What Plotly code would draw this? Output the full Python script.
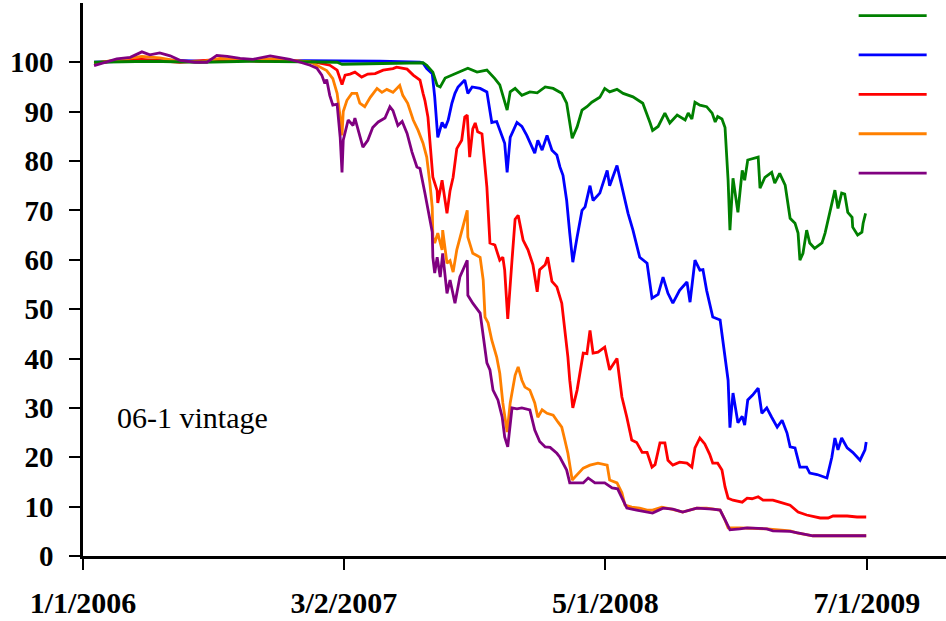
import plotly.graph_objects as go

# ABX.HE 06-1 index prices by tranche (observation date, price)
aaa_dates = [
    "2006-01-19", "2006-03-02", "2006-04-20", "2006-07-11", "2006-09-30", "2006-12-21", "2007-02-19", "2007-02-27", "2007-04-30", "2007-07-09",
    "2007-07-15", "2007-07-25", "2007-08-01", "2007-08-06", "2007-08-14", "2007-08-25", "2007-09-07", "2007-09-20", "2007-10-05", "2007-10-21",
    "2007-11-03", "2007-11-11", "2007-11-23", "2007-11-28", "2007-12-06", "2007-12-17", "2007-12-30", "2008-01-11", "2008-01-24", "2008-02-06",
    "2008-02-20", "2008-02-28", "2008-03-08", "2008-03-16", "2008-03-24", "2008-04-01", "2008-04-09", "2008-04-22", "2008-04-30", "2008-05-08",
    "2008-05-20", "2008-05-30", "2008-06-15", "2008-07-01", "2008-07-13", "2008-07-17", "2008-07-26", "2008-08-06", "2008-08-14", "2008-08-26",
    "2008-09-08", "2008-09-13", "2008-09-19", "2008-09-24", "2008-10-02", "2008-10-13", "2008-10-22", "2008-10-27", "2008-10-31", "2008-11-07",
    "2008-11-12", "2008-11-15", "2008-11-17", "2008-11-20", "2008-11-25", "2008-12-03", "2008-12-10", "2008-12-14", "2008-12-19", "2009-01-05",
    "2009-01-08", "2009-01-16", "2009-01-27", "2009-02-01", "2009-02-09", "2009-02-18", "2009-02-22", "2009-02-26", "2009-03-06", "2009-03-11",
    "2009-03-14", "2009-03-19", "2009-03-25", "2009-03-30", "2009-04-07", "2009-04-19", "2009-04-24", "2009-05-02", "2009-05-10", "2009-05-15",
    "2009-05-21", "2009-05-26", "2009-05-31", "2009-06-07", "2009-06-08", "2009-06-16", "2009-06-23", "2009-06-25", "2009-06-29",
]
aaa_prices = [
    100.0, 100.1, 100.2, 100.0, 100.2, 100.1, 100.0, 99.6, 99.8, 99.9,
    99.4, 98.0, 95.3, 95.0, 96.8, 97.4, 98.0, 98.8, 98.0, 98.4,
    96.7, 95.4, 90.3, 94.0, 94.7, 93.3, 94.0, 93.8, 95.0, 94.7,
    93.7, 91.7, 84.6, 86.9, 90.3, 91.0, 91.9, 92.9, 94.7, 94.0,
    94.5, 93.7, 93.0, 91.7, 87.7, 86.2, 87.0, 89.7, 87.7, 89.3,
    88.3, 89.7, 88.5, 91.9, 91.3, 91.0, 89.7, 87.9, 89.0, 88.5,
    86.8, 81.5, 76.1, 66.0, 76.5, 69.6, 78.1, 76.1, 80.2, 80.8,
    74.5, 76.7, 77.7, 75.5, 77.5, 75.1, 72.0, 68.4, 67.4, 65.4,
    59.9, 61.3, 66.0, 63.4, 62.3, 63.4, 65.4, 70.0, 74.1, 70.4,
    73.5, 73.3, 69.6, 68.6, 66.6, 65.0, 65.6, 67.4, 69.4,
]

aa_dates = [
    "2006-01-19", "2006-03-19", "2006-05-06", "2006-07-11", "2006-09-30", "2006-12-21", "2007-02-24", "2007-04-30", "2007-07-04", "2007-07-09",
    "2007-07-15", "2007-07-24", "2007-07-28", "2007-08-02", "2007-08-09", "2007-08-14", "2007-08-19", "2007-08-25", "2007-08-30", "2007-09-04",
    "2007-09-15", "2007-09-20", "2007-09-27", "2007-10-10", "2007-10-21", "2007-10-29", "2007-11-06", "2007-11-15", "2007-11-19", "2007-11-23",
    "2007-11-28", "2007-12-09", "2007-12-17", "2007-12-25", "2008-01-07", "2008-01-12", "2008-01-19", "2008-01-27", "2008-02-04", "2008-02-12",
    "2008-02-17", "2008-02-22", "2008-02-28", "2008-03-04", "2008-03-09", "2008-03-16", "2008-03-24", "2008-03-29", "2008-04-06", "2008-04-11",
    "2008-04-22", "2008-05-04", "2008-05-08", "2008-05-20", "2008-05-28", "2008-06-07", "2008-06-15", "2008-06-26", "2008-07-08", "2008-07-16",
    "2008-07-26", "2008-08-03", "2008-08-11", "2008-08-19", "2008-08-30", "2008-09-11", "2008-09-16", "2008-09-24", "2008-10-02", "2008-10-07",
    "2008-10-13", "2008-10-23", "2008-11-04", "2008-11-12", "2008-11-17", "2008-11-20", "2008-11-25", "2008-12-03", "2008-12-10", "2008-12-14",
    "2008-12-19", "2008-12-27", "2009-01-05", "2009-01-11", "2009-01-19", "2009-01-27", "2009-02-05", "2009-02-13", "2009-02-21", "2009-02-26",
    "2009-03-06", "2009-03-14", "2009-03-25", "2009-03-30", "2009-04-11", "2009-04-27", "2009-05-05", "2009-05-10", "2009-05-15", "2009-05-21",
    "2009-05-30", "2009-06-08", "2009-06-20", "2009-06-28", "2009-06-30",
]
aa_prices = [
    100.0, 100.3, 100.5, 100.2, 100.4, 100.3, 100.3, 100.2, 100.0, 99.8,
    98.7, 97.7, 93.0, 84.8, 87.8, 86.7, 88.3, 91.7, 93.7, 95.0,
    96.4, 93.7, 95.0, 94.7, 94.0, 87.8, 88.0, 84.8, 83.6, 77.7,
    84.8, 87.8, 87.0, 85.2, 81.6, 84.2, 82.2, 85.2, 82.2, 81.2,
    78.8, 77.1, 72.0, 65.4, 59.5, 64.6, 70.0, 70.7, 75.0, 72.0,
    73.5, 78.1, 75.0, 79.1, 74.7, 69.4, 66.0, 60.5, 59.3, 52.2,
    53.0, 56.5, 53.2, 51.2, 53.8, 55.5, 51.4, 59.9, 57.9, 58.0,
    53.8, 48.4, 47.8, 40.3, 35.6, 26.0, 33.0, 27.0, 28.3, 26.5,
    31.6, 32.6, 34.0, 28.9, 30.0, 28.1, 26.1, 27.5, 24.9, 22.1,
    21.9, 18.0, 18.0, 16.8, 16.5, 15.8, 20.0, 23.9, 21.5, 23.9,
    21.9, 21.0, 19.4, 21.5, 23.1,
]

a_dates = [
    "2006-01-19", "2006-03-02", "2006-04-07", "2006-06-08", "2006-08-12", "2006-10-16", "2006-12-04", "2007-01-14", "2007-01-30", "2007-02-07",
    "2007-02-19", "2007-02-27", "2007-03-04", "2007-03-12", "2007-03-20", "2007-03-31", "2007-04-10", "2007-04-22", "2007-05-05", "2007-05-21",
    "2007-05-27", "2007-06-06", "2007-06-13", "2007-06-23", "2007-07-04", "2007-07-09", "2007-07-12", "2007-07-17", "2007-07-20", "2007-07-25",
    "2007-08-01", "2007-08-02", "2007-08-09", "2007-08-14", "2007-08-17", "2007-08-22", "2007-08-27", "2007-09-02", "2007-09-10", "2007-09-15",
    "2007-09-19", "2007-09-23", "2007-09-28", "2007-10-02", "2007-10-06", "2007-10-13", "2007-10-18", "2007-10-21", "2007-10-26", "2007-11-03",
    "2007-11-11", "2007-11-16", "2007-11-19", "2007-11-24", "2007-12-01", "2007-12-06", "2007-12-11", "2007-12-19", "2007-12-27", "2008-01-04",
    "2008-01-11", "2008-01-15", "2008-01-24", "2008-01-28", "2008-02-04", "2008-02-12", "2008-02-20", "2008-02-25", "2008-03-01", "2008-03-04",
    "2008-03-09", "2008-03-16", "2008-03-21", "2008-03-26", "2008-04-01", "2008-04-06", "2008-04-11", "2008-04-19", "2008-04-30", "2008-05-08",
    "2008-05-20", "2008-05-28", "2008-06-05", "2008-06-13", "2008-06-21", "2008-06-30", "2008-07-08", "2008-07-16", "2008-07-21", "2008-07-29",
    "2008-08-06", "2008-08-11", "2008-08-19", "2008-08-30", "2008-09-11", "2008-09-19", "2008-09-24", "2008-10-02", "2008-10-10", "2008-10-18",
    "2008-10-23", "2008-10-31", "2008-11-07", "2008-11-12", "2008-11-17", "2008-11-25", "2008-12-10", "2008-12-18", "2008-12-26", "2009-01-05",
    "2009-01-13", "2009-01-29", "2009-02-09", "2009-02-26", "2009-03-11", "2009-03-25", "2009-04-16", "2009-04-29", "2009-05-07", "2009-05-30",
    "2009-06-15", "2009-06-30",
]
a_prices = [
    99.8, 100.4, 100.6, 100.0, 100.6, 100.2, 100.3, 100.0, 99.6, 99.4,
    98.4, 95.5, 97.4, 97.6, 98.0, 97.0, 97.6, 97.7, 98.4, 98.7,
    99.0, 98.7, 98.6, 97.4, 96.4, 93.7, 92.3, 88.9, 84.8, 76.7,
    74.0, 71.5, 76.1, 72.0, 69.4, 74.0, 76.7, 82.5, 84.2, 88.9,
    89.3, 80.8, 86.5, 87.7, 85.9, 85.5, 78.8, 74.7, 63.4, 63.0,
    59.9, 60.5, 57.9, 48.0, 60.0, 68.2, 69.0, 64.0, 62.0, 59.0,
    53.5, 58.0, 59.0, 60.5, 55.6, 54.5, 51.2, 45.7, 40.3, 35.6,
    30.0, 33.6, 37.7, 41.1, 41.0, 45.7, 41.1, 41.3, 42.3, 37.7,
    40.0, 32.2, 28.1, 23.5, 23.0, 21.0, 21.0, 18.0, 18.5, 22.9,
    22.9, 19.4, 18.4, 19.0, 18.8, 18.0, 21.9, 23.9, 22.7, 20.6,
    18.8, 18.8, 17.4, 14.0, 11.7, 11.3, 10.9, 11.7, 11.6, 12.0,
    11.3, 11.3, 10.9, 10.3, 8.9, 8.3, 7.7, 7.7, 8.1, 8.1,
    7.9, 7.9,
]

bbb_dates = [
    "2006-01-19", "2006-02-25", "2006-04-07", "2006-05-06", "2006-06-08", "2006-07-11", "2006-08-12", "2006-09-14", "2006-10-16", "2006-11-10",
    "2006-12-12", "2007-01-06", "2007-01-22", "2007-02-02", "2007-02-12", "2007-02-19", "2007-02-24", "2007-02-27", "2007-03-01", "2007-03-07",
    "2007-03-15", "2007-03-23", "2007-03-28", "2007-04-05", "2007-04-14", "2007-04-25", "2007-05-03", "2007-05-11", "2007-05-21", "2007-06-01",
    "2007-06-06", "2007-06-14", "2007-06-23", "2007-07-01", "2007-07-09", "2007-07-15", "2007-07-20", "2007-07-24", "2007-07-25", "2007-07-28",
    "2007-08-02", "2007-08-09", "2007-08-10", "2007-08-17", "2007-08-22", "2007-08-27", "2007-09-02", "2007-09-07", "2007-09-12", "2007-09-19",
    "2007-09-20", "2007-09-28", "2007-10-10", "2007-10-15", "2007-10-18", "2007-10-23", "2007-10-29", "2007-11-06", "2007-11-11", "2007-11-16",
    "2007-11-23", "2007-11-28", "2007-12-06", "2007-12-11", "2007-12-17", "2007-12-22", "2007-12-30", "2008-01-07", "2008-01-12", "2008-01-19",
    "2008-01-27", "2008-02-06", "2008-02-14", "2008-02-20", "2008-02-25", "2008-03-01", "2008-03-08", "2008-03-16", "2008-03-26", "2008-04-06",
    "2008-04-19", "2008-05-04", "2008-05-08", "2008-05-20", "2008-05-28", "2008-06-02", "2008-06-13", "2008-06-26", "2008-07-08", "2008-07-17",
    "2008-08-01", "2008-08-17", "2008-09-04", "2008-09-27", "2008-10-13", "2008-11-04", "2008-11-12", "2008-11-17", "2008-12-06", "2009-01-19",
    "2009-02-26", "2009-03-09", "2009-04-04", "2009-06-30",
]
bbb_prices = [
    99.8, 100.5, 101.2, 100.9, 100.2, 100.1, 100.8, 100.6, 100.5, 100.8,
    100.3, 100.1, 99.1, 98.3, 96.7, 93.7, 88.9, 85.2, 90.0, 92.3,
    93.7, 93.7, 91.7, 91.0, 92.9, 94.7, 93.9, 94.5, 93.9, 95.3,
    93.3, 91.7, 88.3, 86.2, 83.6, 80.8, 75.7, 70.6, 64.6, 63.4,
    65.4, 62.0, 66.0, 59.3, 59.8, 57.5, 62.0, 64.4, 66.6, 70.0,
    64.6, 61.3, 60.5, 55.9, 48.4, 47.2, 43.7, 40.3, 37.0, 31.0,
    25.1, 31.0, 36.6, 38.3, 35.6, 34.2, 33.6, 31.0, 28.1, 29.6,
    28.9, 28.5, 27.1, 26.1, 23.5, 20.8, 15.4, 16.4, 17.8, 18.4,
    18.8, 18.4, 15.4, 14.8, 12.8, 10.3, 9.9, 9.7, 9.3, 9.3,
    9.9, 9.5, 8.9, 9.7, 9.7, 9.3, 7.3, 5.7, 5.7, 5.5,
    5.1, 4.7, 4.1, 4.1,
]

bbbm_dates = [
    "2006-01-19", "2006-02-06", "2006-02-25", "2006-03-19", "2006-04-07", "2006-04-20", "2006-05-06", "2006-05-23", "2006-06-08", "2006-07-02",
    "2006-07-22", "2006-08-07", "2006-08-24", "2006-09-14", "2006-10-05", "2006-11-02", "2006-11-18", "2006-12-04", "2006-12-21", "2007-01-06",
    "2007-01-17", "2007-01-25", "2007-01-30", "2007-02-02", "2007-02-07", "2007-02-12", "2007-02-19", "2007-02-24", "2007-02-27", "2007-03-01",
    "2007-03-09", "2007-03-17", "2007-03-20", "2007-03-25", "2007-04-02", "2007-04-10", "2007-04-18", "2007-04-27", "2007-05-08", "2007-05-16",
    "2007-05-21", "2007-05-29", "2007-06-05", "2007-06-13", "2007-06-21", "2007-06-29", "2007-07-04", "2007-07-12", "2007-07-17", "2007-07-24",
    "2007-07-25", "2007-07-28", "2007-08-01", "2007-08-06", "2007-08-10", "2007-08-17", "2007-08-22", "2007-08-30", "2007-09-07", "2007-09-15",
    "2007-09-19", "2007-09-20", "2007-09-28", "2007-10-10", "2007-10-15", "2007-10-21", "2007-10-26", "2007-10-31", "2007-11-08", "2007-11-15",
    "2007-11-19", "2007-11-24", "2007-12-01", "2007-12-09", "2007-12-17", "2007-12-30", "2008-01-07", "2008-01-15", "2008-01-24", "2008-02-01",
    "2008-02-12", "2008-02-17", "2008-02-28", "2008-03-04", "2008-03-16", "2008-03-26", "2008-04-03", "2008-04-14", "2008-04-30", "2008-05-12",
    "2008-05-21", "2008-05-30", "2008-06-05", "2008-06-21", "2008-07-08", "2008-07-17", "2008-08-03", "2008-08-19", "2008-09-04", "2008-09-27",
    "2008-10-23", "2008-11-04", "2008-11-12", "2008-11-20", "2008-12-06", "2008-12-18", "2009-01-19", "2009-01-29", "2009-02-26", "2009-03-09",
    "2009-04-04", "2009-06-30",
]
bbbm_prices = [
    99.3, 100.0, 100.7, 101.0, 102.1, 101.5, 101.9, 101.3, 100.4, 100.0,
    100.0, 101.4, 101.2, 100.8, 100.6, 101.3, 101.0, 100.6, 100.0, 99.4,
    98.8, 97.4, 95.7, 96.5, 93.3, 91.3, 91.5, 84.8, 77.7, 84.2,
    88.3, 87.2, 88.7, 86.2, 82.8, 84.2, 86.8, 87.9, 88.7, 91.0,
    90.2, 87.2, 88.0, 85.6, 81.8, 78.8, 78.5, 73.5, 70.0, 65.6,
    60.5, 57.3, 60.5, 56.5, 61.3, 53.2, 55.9, 51.2, 56.5, 58.9,
    59.9, 52.8, 51.2, 49.2, 44.3, 39.1, 37.7, 33.6, 31.6, 28.1,
    24.1, 22.1, 30.0, 29.8, 30.0, 29.6, 25.5, 23.2, 22.1, 22.0,
    20.8, 20.0, 17.4, 14.8, 14.8, 14.8, 15.8, 14.8, 14.8, 13.8,
    13.6, 11.3, 9.7, 9.3, 8.9, 8.7, 9.7, 9.5, 8.9, 9.7,
    9.5, 9.3, 7.3, 5.3, 5.5, 5.7, 5.5, 5.1, 5.0, 4.7,
    4.1, 4.1,
]

tick_dates = ["2006-01-01", "2007-03-02", "2008-05-01", "2009-07-01"]
tick_labels = ["1/1/2006", "3/2/2007", "5/1/2008", "7/1/2009"]
y_ticks = [0, 10, 20, 30, 40, 50, 60, 70, 80, 90, 100]

# (dates, prices, colour, legend position); drawn in list order
series = [
    (aa_dates, aa_prices, "#0000FF", 2),
    (a_dates, a_prices, "#FF0000", 3),
    (bbb_dates, bbb_prices, "#FF8000", 4),
    (aaa_dates, aaa_prices, "#008000", 1),
    (bbbm_dates, bbbm_prices, "#800080", 5),
]

fig = go.Figure()
for dates, prices, colour, rank in series:
    fig.add_trace(go.Scatter(
        x=dates, y=prices, mode="lines", name=" ",
        line=dict(color=colour, width=2.8),
        legendrank=rank,
    ))

serif = "Liberation Serif, Times New Roman, serif"

fig.update_layout(
    width=946, height=621,
    margin=dict(l=83, r=0, t=3, b=65, autoexpand=False),
    paper_bgcolor="white", plot_bgcolor="white",
    showlegend=True,
    legend=dict(
        x=0.893, y=1.022, xanchor="left", yanchor="top",
        bgcolor="rgba(0,0,0,0)", borderwidth=0,
        font=dict(family=serif, size=28, color="black"),
        itemwidth=68, tracegroupgap=0,
    ),
    xaxis=dict(
        type="date", range=["2006-01-01", "2009-11-07"],
        tickmode="array", tickvals=tick_dates, ticktext=tick_labels,
        ticks="outside", ticklen=11, tickwidth=1.5, tickcolor="black",
        showline=True, linecolor="black", linewidth=2.5,
        showgrid=False, zeroline=False, automargin=False,
        tickfont=dict(family=serif, size=30, color="black", weight="bold"),
        ticklabelstandoff=7,
    ),
    yaxis=dict(
        range=[0, 112],
        tickmode="array", tickvals=y_ticks,
        ticks="outside", ticklen=11, tickwidth=1.5, tickcolor="black",
        showline=True, linecolor="black", linewidth=2.5,
        showgrid=False, zeroline=False, automargin=False,
        tickfont=dict(family=serif, size=29, color="black", weight="bold"),
        ticklabelstandoff=10,
    ),
    annotations=[dict(
        text="06-1 vintage", xref="paper", yref="paper",
        x=0.037, y=0.25, xanchor="left", yanchor="middle",
        showarrow=False,
        font=dict(family=serif, size=30, color="black"),
    )],
)

fig.write_html("out.html")
